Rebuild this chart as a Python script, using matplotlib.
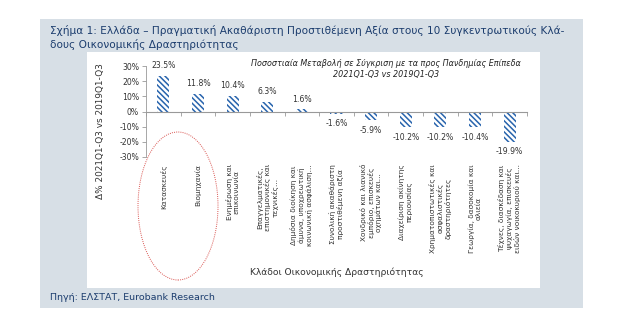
import matplotlib
matplotlib.use("Agg")
import matplotlib.pyplot as plt
from matplotlib.patches import Rectangle, Ellipse
import numpy as np

categories = [
    "Κατασκευές",
    "Βιομηχανία",
    "Ενημέρωση και\nεπικοινωνία",
    "Επαγγελματικές,\nεπιστημονικές και\nτεχνικές...",
    "Δημόσια διοίκηση και\nάμυνα, υποχρεωτική\nκοινωνική ασφάλιση...",
    "Συνολική ακαθάριστη\nπροστιθέμενη αξία",
    "Χονδρικό και λιανικό\nεμπόριο, επισκευές\nοχημάτων και...",
    "Διαχείριση ακίνητης\nπεριουσίας",
    "Χρηματοπιστωτικές και\nασφαλιστικές\nδραστηριότητες",
    "Γεωργία, δασοκομία και\nαλιεία",
    "Τέχνες, διασκέδαση και\nψυχαγωγία, επισκευές\nειδών νοικοκυριού και...",
]
values = [23.5, 11.8, 10.4, 6.3, 1.6, -1.6, -5.9, -10.2, -10.2, -10.4, -19.9]
yticks = [30, 20, 10, 0, -10, -20, -30]

W, H = 626, 335
plt.rcParams['font.family'] = ['DejaVu Sans']
plt.rcParams['hatch.linewidth'] = 1.1
fig = plt.figure(figsize=(W / 100, H / 100), dpi=100)
fig.patch.set_facecolor('white')

def fx(px):
    return px / W

def fy(py):
    return 1 - py / H

navy = '#1c3d6e'
# background panel
fig.patches.append(Rectangle((fx(40), fy(308)), fx(543), 289 / H, transform=fig.transFigure,
                             facecolor='#d7dfe6', edgecolor='none', zorder=-2))
fig.patches.append(Rectangle((fx(87), fy(288)), fx(453), 236 / H, transform=fig.transFigure,
                             facecolor='white', edgecolor='none', zorder=-1))

fig.text(fx(50), fy(30), "Σχήμα 1: Ελλάδα – Πραγματική Ακαθάριστη Προστιθέμενη Αξία στους 10 Συγκεντρωτικούς Κλά-",
         fontsize=7.6, color=navy, va='center', ha='left')
fig.text(fx(50), fy(44), "δους Οικονομικής Δραστηριότητας",
         fontsize=7.6, color=navy, va='center', ha='left')
fig.text(fx(50), fy(298), "Πηγή: ΕΛΣΤΑΤ, Eurobank Research",
         fontsize=6.8, color=navy, va='center', ha='left')

ax = fig.add_axes([fx(146), fy(157), fx(527 - 146), (157 - 66) / H])
ax.set_zorder(3)
ax.set_facecolor('none')
x = np.arange(len(values))
ax.bar(x, values, width=0.35, facecolor='white', edgecolor='#2864ad', linewidth=0,
       hatch='\\' * 6)
ax.set_xlim(-0.5, len(values) - 0.5)
ax.set_ylim(-30, 30)
ax.set_yticks(yticks)
ax.set_yticklabels([f"{v}%" for v in yticks], fontsize=5.6, color='#333333')
ax.tick_params(axis='y', length=3, width=0.6, color='#999999', pad=2)
ax.set_xticks(np.arange(len(values) + 1) - 0.5)
ax.set_xticklabels([])
ax.tick_params(axis='x', length=3, width=0.6, color='#999999', direction='out')
for s in ['top', 'right']:
    ax.spines[s].set_visible(False)
ax.spines['left'].set_color('#999999')
ax.spines['left'].set_linewidth(0.6)
ax.spines['bottom'].set_position(('data', 0))
ax.spines['bottom'].set_color('#999999')
ax.spines['bottom'].set_linewidth(0.8)

for xi, v in zip(x, values):
    if v >= 0:
        ax.annotate(f"{v:.1f}%", (xi, v), xytext=(0, 4), textcoords='offset points',
                    ha='center', va='bottom', fontsize=5.6, color='#333333')
    else:
        ax.annotate(f"{v:.1f}%", (xi, v), xytext=(0, -4), textcoords='offset points',
                    ha='center', va='top', fontsize=5.6, color='#333333')

for xi, c in zip(x, categories):
    ax.annotate(c, (xi, 0), xycoords=('data', 'axes fraction'), xytext=(0, -5),
                textcoords='offset points', rotation=90, ha='center', va='top',
                multialignment='center', fontsize=5.3, color='#333333', linespacing=1.15)

fig.text(fx(386), fy(64), "Ποσοστιαία Μεταβολή σε Σύγκριση με τα προς Πανδημίας Επίπεδα",
         fontsize=5.8, style='italic', color='#222222', ha='center', va='center', zorder=4)
fig.text(fx(386), fy(74), "2021Q1-Q3 vs 2019Q1-Q3",
         fontsize=5.8, style='italic', color='#222222', ha='center', va='center', zorder=4)

fig.text(fx(101), fy(131), "Δ% 2021Q1-Q3 vs 2019Q1-Q3", rotation=90, fontsize=6.4,
         color='#333333', ha='center', va='center')
fig.text(fx(337), fy(272), "Κλάδοι Οικονομικής Δραστηριότητας", fontsize=6.6,
         color='#333333', ha='center', va='center')

fig.patches.append(Ellipse((fx(178), fy(206)), fx(80), 148 / H, transform=fig.transFigure,
                           facecolor='none', edgecolor='#d9534f', linestyle=(0, (1, 1.2)),
                           linewidth=0.7, zorder=5))

fig.savefig('out.png', dpi=100)
